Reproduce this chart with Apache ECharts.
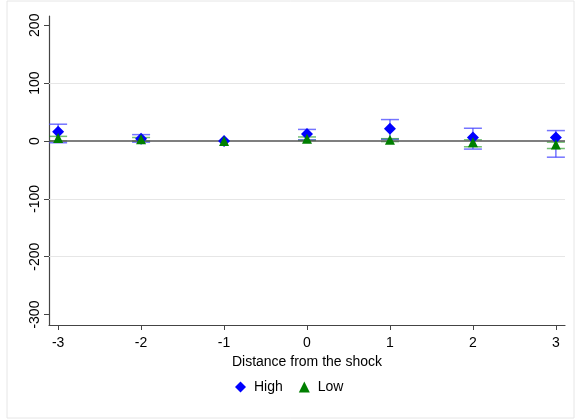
<!DOCTYPE html>
<html><head><meta charset="utf-8">
<script src="https://cdn.jsdelivr.net/npm/echarts@6/dist/echarts.min.js"></script>
<style>html,body{margin:0;padding:0;background:#fff}#c{width:575px;height:419px}</style>
</head><body><div id="c"></div>
<script>
const xs = [-3, -2, -1, 0, 1, 2, 3];
const highEst = [16, 4, 0, 12, 21, 6, 6];
const highLo  = [-3, -2, 0, 2, 3, -14, -28];
const highHi  = [29, 11, 0, 20, 37, 22, 18];
const lowEst  = [5, 3, 0, 4, 2, -2, -6];
const lowLo   = [0, 0, 0, 1, -1, -10, -13];
const lowHi   = [8, 6, 0, 7, 4, 2, -2];
const yTicks = [-300, -200, -100, 0, 100, 200];
const gridVals = [-200, -100, 100];

function errSeries(name, lo, hi, color) {
  return {
    type: 'custom', name: name + 'CI', silent: true, z: 2,
    data: xs.map((x, i) => [x, lo[i], hi[i]]).filter(d => d[1] !== d[2]),
    renderItem: function (params, api) {
      const x = api.value(0);
      const p1 = api.coord([x, api.value(1)]);
      const p2 = api.coord([x, api.value(2)]);
      const w = 9;
      const st = { stroke: color, lineWidth: 1.5 };
      return { type: 'group', children: [
        { type: 'line', shape: { x1: p1[0], y1: p1[1], x2: p2[0], y2: p2[1] }, style: st },
        { type: 'line', shape: { x1: p1[0] - w, y1: p1[1], x2: p1[0] + w, y2: p1[1] }, style: st },
        { type: 'line', shape: { x1: p2[0] - w, y1: p2[1], x2: p2[0] + w, y2: p2[1] }, style: st }
      ]};
    }
  };
}

const chart = echarts.init(document.getElementById('c'));
chart.setOption({
  animation: false,
  textStyle: { fontFamily: 'Liberation Sans, Arial, sans-serif' },
  graphic: [{ type: 'rect', shape: { x: 7, y: 1, width: 567, height: 417 }, style: { fill: 'none', stroke: '#e6e6e6', lineWidth: 1 }, z: -10 }],
  grid: { left: 49, right: 10, top: 16, bottom: 94 },
  xAxis: {
    type: 'value', min: -3.11, max: 3.11,
    name: 'Distance from the shock', nameLocation: 'middle', nameGap: 26,
    nameTextStyle: { color: '#000', fontSize: 14 },
    axisLine: { onZero: false, lineStyle: { color: '#444', width: 1.2 } },
    axisTick: { show: true, customValues: xs, length: 5, lineStyle: { color: '#444' } },
    axisLabel: { customValues: xs, color: '#000', fontSize: 14, margin: 11 },
    splitLine: { show: false }
  },
  yAxis: {
    type: 'value', min: -318, max: 216,
    axisLine: { show: true, onZero: false, lineStyle: { color: '#444', width: 1.2 } },
    axisTick: { show: true, customValues: yTicks, length: 5, lineStyle: { color: '#444' } },
    axisLabel: { customValues: yTicks, color: '#000', fontSize: 14, rotate: 90, margin: 7 },
    splitLine: { show: false }
  },
  legend: {
    bottom: 20, left: 230, itemGap: 16, itemWidth: 11, itemHeight: 11,
    textStyle: { color: '#000', fontSize: 14, padding: [0, 0, 0, 3] },
    data: [{ name: 'High', icon: 'diamond' }, { name: 'Low', icon: 'triangle' }]
  },
  series: [
    {
      type: 'line', name: 'grid', silent: true, data: [], z: 0,
      markLine: {
        symbol: 'none', silent: true, label: { show: false },
        lineStyle: { color: '#e6e6e6', type: 'solid', width: 1 },
        data: gridVals.map(v => ({ yAxis: v }))
      }
    },
    {
      type: 'line', name: 'zero', silent: true, data: [], z: 1,
      markLine: {
        symbol: 'none', silent: true, label: { show: false },
        lineStyle: { color: '#555', type: 'solid', width: 1.5 },
        data: [{ yAxis: 0 }]
      }
    },
    errSeries('High', highLo, highHi, 'rgba(70,70,255,0.75)'),
    errSeries('Low', lowLo, lowHi, 'rgba(0,140,0,0.55)'),
    {
      type: 'scatter', name: 'High', symbol: 'diamond', symbolSize: 12, z: 5,
      itemStyle: { color: '#0000ff', opacity: 1 },
      data: xs.map((x, i) => [x, highEst[i]])
    },
    {
      type: 'scatter', name: 'Low', symbol: 'triangle', symbolSize: 10, z: 6,
      itemStyle: { color: '#007f00', opacity: 1 },
      data: xs.map((x, i) => [x, lowEst[i]])
    }
  ]
});
</script></body></html>
